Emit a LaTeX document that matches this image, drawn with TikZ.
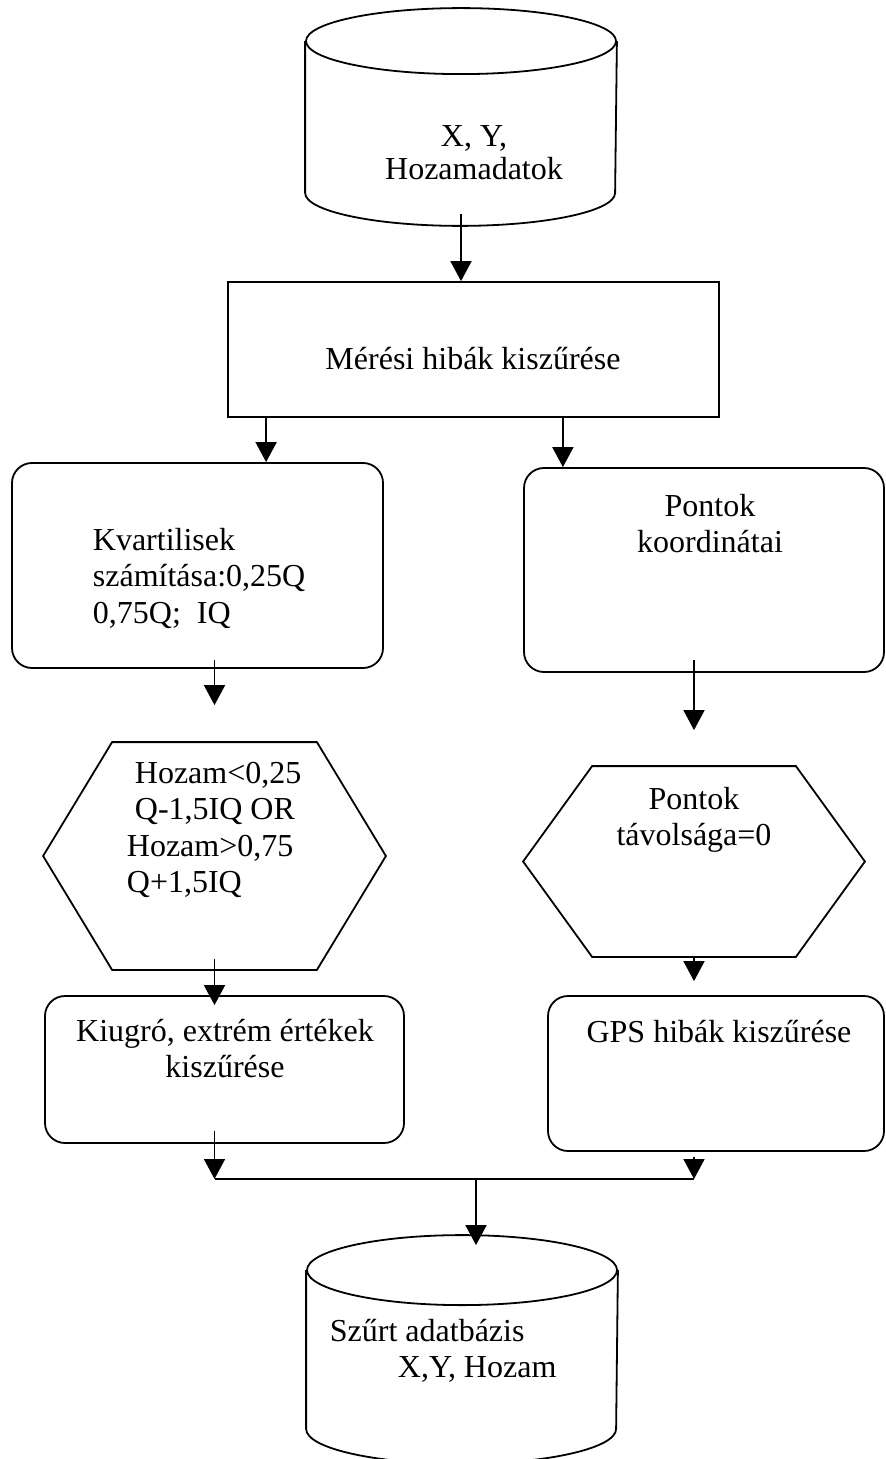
\documentclass[tikz,border=0pt]{standalone}
\usepackage{fontspec}
\setmainfont{Liberation Serif}
\usetikzlibrary{arrows.meta}

\tikzset{
  lbl/.style={inner sep=0pt, font=\fontsize{16}{18.25}\selectfont},
  procbox/.style={draw, rectangle, inner sep=0pt},
  roundbox/.style={draw, rectangle, rounded corners=10pt, inner sep=0pt},
  span/.style={rectangle, inner sep=0pt},
  flow/.style={-{Triangle[length=10pt,width=10.5pt]}},
}

\begin{document}
\begin{tikzpicture}[x=0.5pt, y=-0.5pt, line width=0.9pt]
  \useasboundingbox (0,0) rectangle (885,1459);

  % outlines
  \node[span, minimum width=155pt, minimum height=108pt]       (src)   at (461,117)     {};
  \node[procbox, minimum width=245.5pt, minimum height=67.5pt] (meres) at (473.5,349.5) {};
  \node[roundbox, minimum width=185.5pt, minimum height=102.5pt] (kvart) at (197.5,565.5) {};
  \node[roundbox, minimum width=180pt, minimum height=102pt]   (pont)  at (704,570)     {};
  \node[span, minimum width=170.5pt, minimum height=113pt]     (hexl)  at (214.5,856)   {};
  \node[span, minimum width=170pt, minimum height=94.5pt]      (hexr)  at (694,861.5)   {};
  \node[roundbox, minimum width=179.5pt, minimum height=73.5pt] (kiug)  at (224.5,1069.5) {};
  \node[roundbox, minimum width=168pt, minimum height=77.5pt]  (gps)   at (716,1073.5)  {};
  \node[span, minimum width=155pt, minimum height=113.5pt]     (dst)   at (462,1349.5)  {};

  \draw ([yshift=-16.5pt]src.north west) -- ([yshift=16.5pt]src.south west)
    arc[start angle=180, end angle=360, x radius=77.5pt, y radius=16.5pt] -- ([yshift=-16.5pt]src.north east);
  \draw ([yshift=-16.5pt]src.north) ellipse [x radius=77.5pt, y radius=16.5pt];
  \draw ([yshift=-17.5pt]dst.north west) -- ([yshift=17.5pt]dst.south west)
    arc[start angle=180, end angle=360, x radius=77.5pt, y radius=17.5pt] -- ([yshift=-17.5pt]dst.north east);
  \draw ([yshift=-17.5pt]dst.north) ellipse [x radius=77.5pt, y radius=17.5pt];
  \foreach \h in {hexl,hexr}
    \draw (\h.west) -- ([xshift=34.5pt]\h.north west) -- ([xshift=-34.5pt]\h.north east) -- (\h.east)
      -- ([xshift=-34.5pt]\h.south east) -- ([xshift=34.5pt]\h.south west) -- cycle;

  % texts
  \node[lbl, anchor=north, align=center, font=\fontsize{16}{16.5}\selectfont] (srcT) at (474,125) {X, Y,\\Hozamadatok};
  \node[lbl, anchor=north] (meresT) at (473,346) {Mérési hibák kiszűrése};
  \node[lbl, anchor=north west, align=left] (kvartT) at (92,527) {Kvartilisek\\számítása:0,25Q\\0,75Q;\ \ IQ};
  \node[lbl, anchor=north, align=center] (pontT) at (710,493) {Pontok\\koordinátai};
  \node[lbl, anchor=north west, align=left] (hexlT) at (126,761) {\hspace{4pt}Hozam<0,25\\\hspace{4pt}Q-1,5IQ OR\\Hozam>0,75\\Q+1,5IQ};
  \node[lbl, anchor=north, align=center] (hexrT) at (694,786) {Pontok\\távolsága=0};
  \node[lbl, anchor=north, align=center] (kiugT) at (225,1018) {Kiugró, extrém értékek\\kiszűrése};
  \node[lbl, anchor=north] (gpsT) at (719,1019) {GPS hibák kiszűrése};
  \node[lbl, anchor=north west, align=left] (dstT) at (329,1318) {Szűrt adatbázis\\\hspace{34pt}X,Y, Hozam};

  % connectors
  \draw[flow] ([yshift=6pt]src.south) -- (src.south |- meres.north);
  \draw[flow] ([xshift=19.5pt]meres.south west) coordinate (m1) -- (m1 |- kvart.north);
  \draw[flow] ([xshift=-78.5pt]meres.south east) coordinate (m2) -- (m2 |- pont.north);
  \draw[flow, shorten >=18.5pt] ([yshift=4.5pt]kvart.south -| hexl.north) -- (hexl.north);
  \draw[flow, shorten >=18pt] ([yshift=6.5pt]pont.south -| hexr.north) -- (hexr.north);
  \draw[flow, shorten >=-5pt] ([yshift=5.5pt]hexl.south) -- (hexl.south |- kiug.north);
  \draw[flow, shorten >=7pt] (hexr.south) -- (hexr.south |- gps.north);
  \coordinate (join) at (476,1179);
  \draw[flow] ([yshift=6.5pt]kiug.south -| hexl.south) -- (hexl.south |- join);
  \draw[flow] ([yshift=-2.5pt]gps.south -| hexr.south) -- (hexr.south |- join);
  \draw (hexl.south |- join) -- (hexr.south |- join);
  \draw[flow, shorten >=-5pt] (join) -- (join |- dst.north);
\end{tikzpicture}
\end{document}
